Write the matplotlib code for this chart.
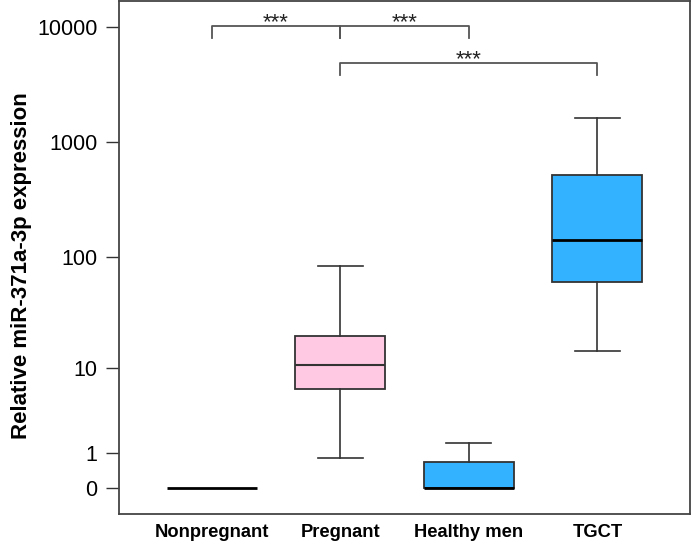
import numpy as np
import matplotlib
matplotlib.use("Agg")
import matplotlib.pyplot as plt
import matplotlib.transforms as mtransforms

categories = ["Nonpregnant", "Pregnant", "Healthy men", "TGCT"]
whis_lo = [0.0, 0.82, 0.0, 14.4]
q1 = [0.0, 6.2, 0.0, 60.3]
median = [0.0, 10.7, 0.0, 141.0]
q3 = [0.0, 19.8, 0.68, 519.0]
whis_hi = [0.0, 83.4, 1.46, 1620.0]
box_colors = ["#FFC8E3", "#FFC8E3", "#33B2FF", "#33B2FF"]
y_ticks = [0, 1, 10, 100, 1000, 10000]
comparisons = [(0, 1, "***"), (1, 2, "***"), (1, 3, "***")]

plt.rcParams['font.family'] = ['Liberation Sans', 'DejaVu Sans']

def fwd(x):
    x = np.asarray(x, dtype=float)
    return np.log10(np.maximum(x + 1.0, 1e-12))

def inv(y):
    return 10.0 ** np.asarray(y, dtype=float) - 1.0

fig = plt.figure(figsize=(6.92, 5.41), dpi=100)
ax = fig.add_axes([119/692, 27/541, 571/692, 513/541])
ax.set_yscale('function', functions=(fwd, inv))

positions = np.arange(1, len(categories) + 1)
stats = []
for i, c in enumerate(categories):
    stats.append(dict(label=c, whislo=whis_lo[i], q1=q1[i], med=median[i],
                      q3=q3[i], whishi=whis_hi[i], fliers=[]))

bp = ax.bxp(stats, positions=positions, widths=0.70, patch_artist=True,
            showfliers=False,
            boxprops=dict(edgecolor="#333333", linewidth=1.3),
            whiskerprops=dict(color="#333333", linewidth=1.2),
            capprops=dict(color="#333333", linewidth=1.2),
            medianprops=dict(color="black", linewidth=2.0),
            capwidths=0.35)
for patch, col in zip(bp['boxes'], box_colors):
    patch.set_facecolor(col)
bp['medians'][1].set_color("#333333")
bp['medians'][1].set_linewidth(1.5)
# Nonpregnant: zero-height box, only the median line shows
bp['boxes'][0].set_visible(False)
bp['caps'][0].set_visible(False)
bp['caps'][1].set_visible(False)
bp['caps'][4].set_visible(False)

ax.set_xlim(0.28, 4.72)
ax.set_ylim(inv(-0.226), inv(4.226))
ax.set_yticks(y_ticks)
ax.set_yticklabels([str(t) for t in y_ticks], fontsize=15.5)
ax.yaxis.set_minor_locator(matplotlib.ticker.NullLocator())
ax.set_xticks(positions)
ax.set_xticklabels(categories, fontsize=13.2, fontweight='bold')
ax.tick_params(axis='x', length=0, pad=7)
ax.tick_params(axis='y', length=9.5, width=1.0, color="#333333", pad=6)
ax.set_ylabel("Relative miR-371a-3p expression", fontsize=16, fontweight='bold')
ax.yaxis.set_label_coords(-0.152, 0.484)
for sp in ax.spines.values():
    sp.set_color("#444444")
    sp.set_linewidth(1.3)

trans = mtransforms.blended_transform_factory(ax.transData, ax.transAxes)
levels = [(0.951, 0.928), (0.951, 0.928), (0.879, 0.856)]
for (a, b, txt), (ytop, ybot) in zip(comparisons, levels):
    xa, xb = positions[a], positions[b]
    ax.plot([xa, xa, xb, xb], [ybot, ytop, ytop, ybot], transform=trans,
            color="#555555", linewidth=1.3, clip_on=False)
    ax.text((xa + xb) / 2, ytop - 0.014, txt, transform=trans, ha='center',
            va='bottom', fontsize=16, color="#222222")

fig.savefig("out.png", dpi=100)
